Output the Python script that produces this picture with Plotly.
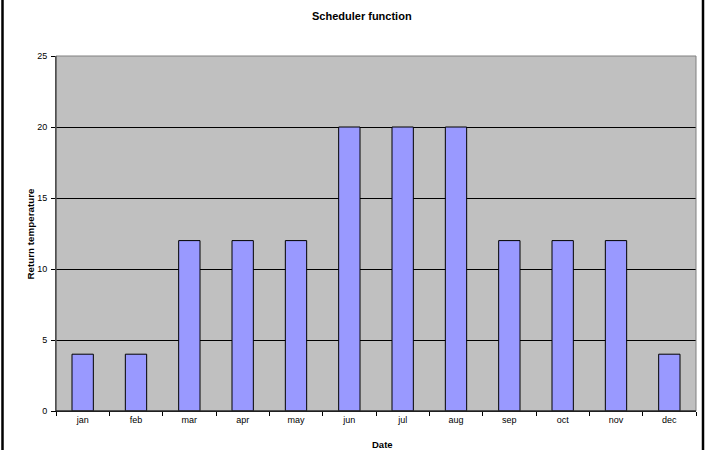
import plotly.graph_objects as go

months = ["jan", "feb", "mar", "apr", "may", "jun", "jul", "aug", "sep", "oct", "nov", "dec"]
return_temp = [4, 4, 12, 12, 12, 20, 20, 20, 12, 12, 12, 4]
y_ticks = [0, 5, 10, 15, 20, 25]

FONT = "Liberation Sans, Arial, sans-serif"

fig = go.Figure()
fig.add_trace(go.Bar(
    x=months, y=return_temp,
    marker=dict(color="#9999FF", line=dict(color="#000000", width=1)),
    width=0.4,
))

L, R, T, B = 56, 11, 56, 39
W, H = 707, 450
pw, ph = W - L - R, H - T - B

def px_x(x):
    return (x - L) / pw

def px_y(y):
    return (H - B - y) / ph

fig.update_layout(
    width=W, height=H,
    margin=dict(l=L, r=R, t=T, b=B, pad=0),
    paper_bgcolor="white",
    plot_bgcolor="#C0C0C0",
    showlegend=False,
    font=dict(family=FONT, size=9, color="#000000"),
    bargap=0.6,
    xaxis=dict(
        type="category",
        tickson="boundaries",
        ticks="outside", ticklen=4, tickcolor="#000000",
        showline=True, linecolor="#000000", linewidth=1,
        showgrid=False, zeroline=False,
        tickfont=dict(family=FONT, size=9),
        fixedrange=True,
    ),
    yaxis=dict(
        range=[0, 25],
        tickvals=y_ticks,
        ticks="outside", ticklen=4, tickcolor="#000000",
        showline=True, linecolor="#404040", linewidth=1,
        showgrid=True, gridcolor="#000000", gridwidth=1,
        zeroline=False,
        tickfont=dict(family=FONT, size=9),
        ticklabelstandoff=2,
        fixedrange=True,
    ),
    shapes=[
        dict(type="rect", xref="paper", yref="paper", x0=0, x1=1, y0=0, y1=1,
             line=dict(color="#808080", width=1), layer="above"),
        dict(type="line", xref="paper", yref="paper", x0=0, x1=0, y0=0, y1=1,
             line=dict(color="#404040", width=1), layer="above"),
        dict(type="line", xref="paper", yref="paper", x0=0, x1=1, y0=0, y1=0,
             line=dict(color="#000000", width=1), layer="above"),
        dict(type="line", xref="paper", yref="paper",
             x0=px_x(2.5), x1=px_x(2.5), y0=px_y(-5), y1=px_y(H + 5),
             line=dict(color="#000000", width=2.5)),
        dict(type="line", xref="paper", yref="paper",
             x0=px_x(703), x1=px_x(703), y0=px_y(-5), y1=px_y(H + 5),
             line=dict(color="#000000", width=2.5)),
    ],
    annotations=[
        dict(text="<b>Scheduler function</b>", xref="paper", yref="paper",
             x=px_x(362), y=px_y(16), xanchor="center", yanchor="middle",
             showarrow=False, font=dict(family=FONT, size=11)),
        dict(text="<b>Return temperature</b>", xref="paper", yref="paper",
             x=px_x(29.5), y=px_y(234), xanchor="center", yanchor="middle",
             textangle=-90, showarrow=False, font=dict(family=FONT, size=9.8)),
        dict(text="<b>Date</b>", xref="paper", yref="paper",
             x=px_x(382), y=px_y(444), xanchor="center", yanchor="middle",
             showarrow=False, font=dict(family=FONT, size=9.5)),
    ],
)

fig.write_html(
    "out.html",
    config={"displayModeBar": False},
    post_script="document.body.style.margin='0';document.body.style.overflow='hidden';",
)
